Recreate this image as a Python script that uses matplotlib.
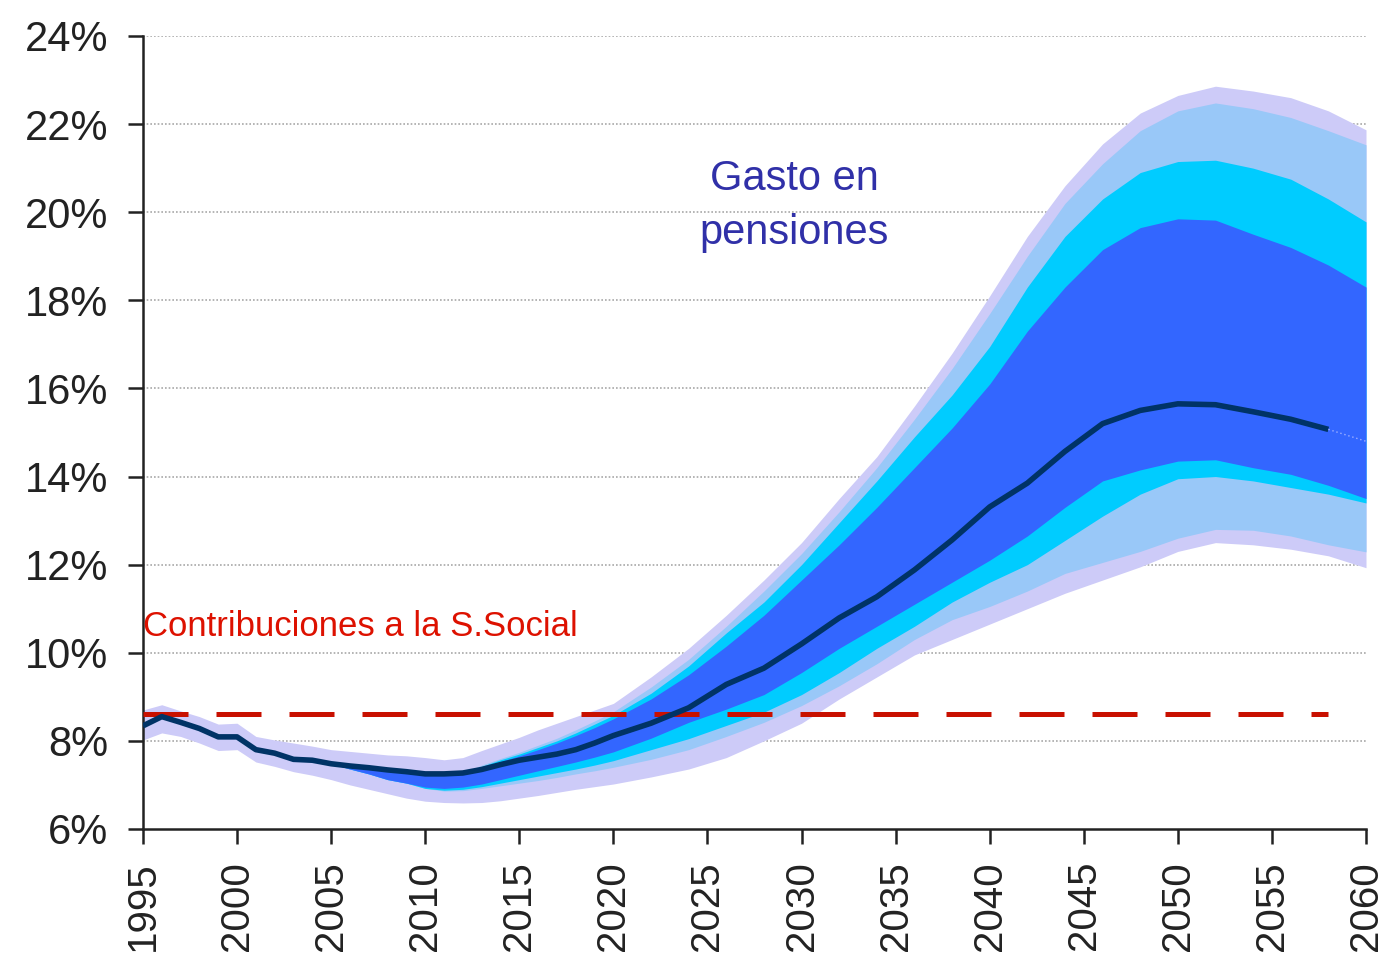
import matplotlib
matplotlib.use("Agg")
import matplotlib.pyplot as plt
import matplotlib.ticker as mticker
import numpy as np

# ── 样式 ──────────────────────────────────────────────
plt.rcParams["font.family"] = ["Liberation Sans", "DejaVu Sans"]

LAVENDER = "#CDCBF8"
LIGHT_BLUE = "#99C8F8"
CYAN = "#00CCFF"
ROYAL_BLUE = "#3366FF"
NAVY = "#003366"
RED = "#C81000"
TEXT_BLUE = "#3030A8"

# ── 数据 (% del PIB) ──────────────────────────────────
years = list(range(1995, 2021)) + list(range(2022, 2061, 2))

median = [8.34, 8.55, 8.42, 8.28, 8.09, 8.09, 7.80, 7.72, 7.58, 7.56,
          7.48, 7.43, 7.39, 7.34, 7.30, 7.25, 7.25, 7.27, 7.35, 7.46,
          7.56, 7.63, 7.70, 7.80, 7.95, 8.12,
          8.40, 8.75, 9.28, 9.65, 10.20, 10.79, 11.27, 11.88, 12.56, 13.31,
          13.85, 14.57, 15.20, 15.50, 15.65, 15.63, 15.47, 15.30, 15.07, 14.80]

# banda exterior (lavanda)
hi4 = [8.70, 8.82, 8.68, 8.55, 8.38, 8.40, 8.10, 8.02, 7.95, 7.88,
       7.80, 7.76, 7.72, 7.68, 7.66, 7.62, 7.57, 7.62, 7.78, 7.93,
       8.08, 8.25, 8.40, 8.55, 8.70, 8.85,
       9.45, 10.10, 10.85, 11.65, 12.50, 13.50, 14.45, 15.60, 16.80, 18.10,
       19.45, 20.60, 21.55, 22.25, 22.65, 22.86, 22.75, 22.60, 22.30, 21.87]
lo4 = [8.02, 8.18, 8.10, 7.95, 7.78, 7.80, 7.52, 7.42, 7.30, 7.22,
       7.12, 7.00, 6.90, 6.80, 6.70, 6.63, 6.60, 6.59, 6.60, 6.64,
       6.70, 6.76, 6.83, 6.90, 6.96, 7.02,
       7.18, 7.36, 7.62, 8.00, 8.40, 8.95, 9.45, 9.95, 10.30, 10.65,
       11.00, 11.35, 11.65, 11.95, 12.30, 12.50, 12.45, 12.35, 12.20, 11.93]

# banda azul claro
hi3 = [8.34, 8.55, 8.42, 8.28, 8.09, 8.09, 7.80, 7.72, 7.58, 7.56,
       7.48, 7.43, 7.39, 7.34, 7.30, 7.25, 7.25, 7.27, 7.45, 7.60,
       7.74, 7.90, 8.06, 8.25, 8.45, 8.66,
       9.22, 9.85, 10.60, 11.40, 12.25, 13.20, 14.20, 15.30, 16.45, 17.70,
       19.00, 20.20, 21.10, 21.85, 22.30, 22.48, 22.35, 22.15, 21.85, 21.53]
lo3 = [8.34, 8.55, 8.42, 8.28, 8.09, 8.09, 7.80, 7.72, 7.58, 7.56,
       7.48, 7.36, 7.25, 7.12, 7.04, 6.92, 6.86, 6.87, 6.92, 6.98,
       7.04, 7.10, 7.17, 7.25, 7.32, 7.40,
       7.58, 7.80, 8.10, 8.42, 8.80, 9.25, 9.75, 10.30, 10.75, 11.05,
       11.40, 11.80, 12.05, 12.30, 12.60, 12.80, 12.78, 12.65, 12.45, 12.29]

# banda cian
hi2 = [8.34, 8.55, 8.42, 8.28, 8.09, 8.09, 7.80, 7.72, 7.58, 7.56,
       7.48, 7.43, 7.39, 7.34, 7.30, 7.25, 7.25, 7.27, 7.42, 7.57,
       7.70, 7.85, 8.00, 8.18, 8.38, 8.58,
       9.08, 9.70, 10.45, 11.15, 12.00, 12.95, 13.90, 14.90, 15.85, 16.95,
       18.30, 19.45, 20.30, 20.90, 21.15, 21.18, 21.00, 20.75, 20.30, 19.78]
lo2 = [8.34, 8.55, 8.42, 8.28, 8.09, 8.09, 7.80, 7.72, 7.58, 7.56,
       7.48, 7.36, 7.25, 7.12, 7.04, 6.92, 6.88, 6.90, 6.96, 7.04,
       7.12, 7.20, 7.28, 7.36, 7.45, 7.55,
       7.80, 8.05, 8.35, 8.65, 9.05, 9.55, 10.10, 10.60, 11.15, 11.60,
       12.00, 12.55, 13.10, 13.60, 13.95, 14.00, 13.90, 13.75, 13.60, 13.40]

# banda central (azul)
hi1 = [8.34, 8.55, 8.42, 8.28, 8.09, 8.09, 7.80, 7.72, 7.58, 7.56,
       7.48, 7.43, 7.39, 7.34, 7.30, 7.25, 7.25, 7.27, 7.40, 7.53,
       7.66, 7.80, 7.95, 8.12, 8.30, 8.50,
       8.95, 9.50, 10.15, 10.85, 11.65, 12.45, 13.30, 14.20, 15.10, 16.10,
       17.30, 18.30, 19.15, 19.65, 19.85, 19.82, 19.50, 19.20, 18.80, 18.30]
lo1 = [8.34, 8.55, 8.42, 8.28, 8.09, 8.09, 7.80, 7.72, 7.58, 7.56,
       7.48, 7.36, 7.25, 7.12, 7.04, 6.95, 6.92, 6.95, 7.02, 7.12,
       7.22, 7.32, 7.42, 7.52, 7.63, 7.75,
       8.06, 8.42, 8.72, 9.05, 9.55, 10.10, 10.60, 11.10, 11.60, 12.10,
       12.65, 13.30, 13.90, 14.15, 14.35, 14.38, 14.20, 14.05, 13.80, 13.50]

contrib = 8.6   # Contribuciones a la S.Social

x_ticks = list(range(1995, 2061, 5))
y_ticks = list(range(6, 25, 2))

# ── 图 ────────────────────────────────────────────────
fig = plt.figure(figsize=(13.84, 9.57), dpi=100)
ax = fig.add_axes([0.1033, 0.1338, 0.8837, 0.8286])

for yv in y_ticks[1:]:
    ax.axhline(yv, color="#A8A8A8", lw=1.2, ls=(0, (1, 1.2)), zorder=0)

ax.fill_between(years, lo4, hi4, color=LAVENDER, lw=0, zorder=1)
ax.fill_between(years, lo3, hi3, color=LIGHT_BLUE, lw=0, zorder=2)
ax.fill_between(years, lo2, hi2, color=CYAN, lw=0, zorder=3)
ax.fill_between(years, lo1, hi1, color=ROYAL_BLUE, lw=0, zorder=4)

# mediana (se corta en 2058, tramo final punteado)
ax.plot(years[:-1], median[:-1], color=NAVY, lw=4.0, zorder=6,
        solid_joinstyle="round", solid_capstyle="butt")
ax.plot(years[-2:], median[-2:], color="#9FB0FF", lw=1.0, ls=(0, (1, 2)), zorder=6)

ax.hlines(contrib, years[0], years[-2], color=RED, lw=3.6,
          linestyles=[(0, (9, 5.6))], zorder=5)

ax.text(1995, 10.6, "Contribuciones a la S.Social", color="#DD1100",
        fontsize=25, ha="left", va="center", zorder=7)
ax.text(2029.6, 20.15, "Gasto en\npensiones", color=TEXT_BLUE,
        fontsize=30, ha="center", va="center", linespacing=1.45, zorder=7)

ax.set_xlim(1995, 2060)
ax.set_ylim(6, 24)
ax.set_xticks(x_ticks)
ax.set_yticks(y_ticks)
ax.xaxis.set_major_formatter(mticker.FuncFormatter(lambda v, p: f"{int(v)}"))
ax.yaxis.set_major_formatter(mticker.FuncFormatter(lambda v, p: f"{int(v)}%"))
ax.tick_params(axis="x", direction="out", length=11, width=1.8, pad=12,
               labelsize=29, labelrotation=90, colors="#222222")
ax.tick_params(axis="y", direction="out", length=11, width=1.8, pad=14,
               labelsize=30, colors="#222222")

for s in ("top", "right"):
    ax.spines[s].set_visible(False)
for s in ("left", "bottom"):
    ax.spines[s].set_linewidth(1.8)
    ax.spines[s].set_color("#222222")

fig.savefig("out.png", dpi=100, facecolor="white")
